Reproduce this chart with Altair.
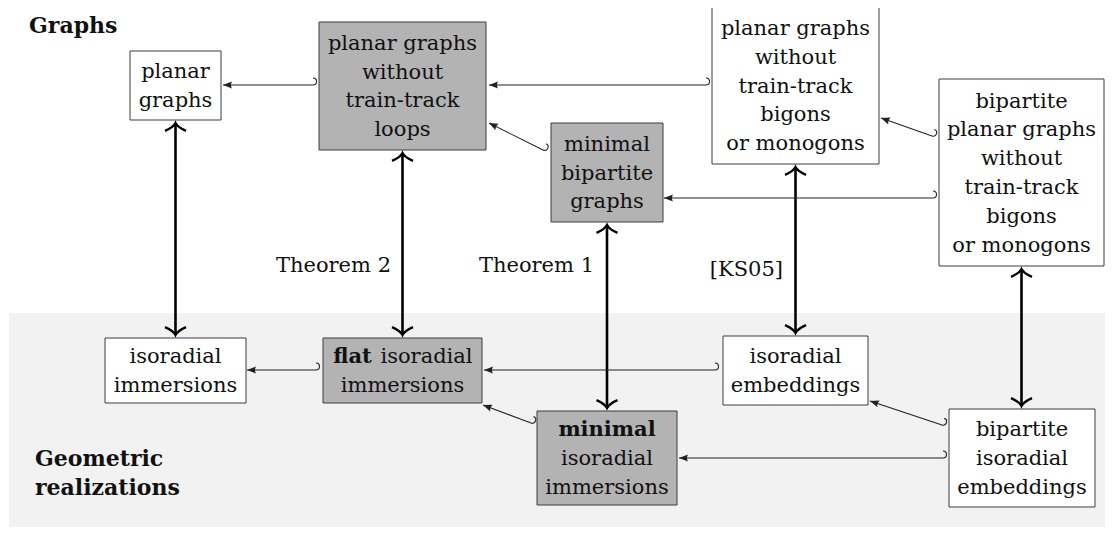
import altair as alt
import pandas as pd
import numpy as np

# ---------------- diagram data (figure pixel units) ----------------
# Boxes (nodes): text lines ("*...*" marks bold), extents, gray fill flag
node_lines = [
    ["planar", "graphs"],
    ["planar graphs", "without", "train-track", "loops"],
    ["planar graphs", "without", "train-track", "bigons", "or monogons"],
    ["bipartite", "planar graphs", "without", "train-track", "bigons", "or monogons"],
    ["minimal", "bipartite", "graphs"],
    ["isoradial", "immersions"],
    ["*flat* isoradial", "immersions"],
    ["isoradial", "embeddings"],
    ["*minimal*", "isoradial", "immersions"],
    ["bipartite", "isoradial", "embeddings"],
]
node_x0 = [130, 319, 712, 939, 551, 105, 323, 723, 537, 949]
node_x1 = [221, 486, 879, 1104, 663, 246, 482, 868, 677, 1095]
node_y0 = [51, 22, 7, 79, 123, 338, 338, 336, 411, 409]
node_y1 = [120, 150, 164, 266, 222, 403, 403, 405, 505, 507]
node_gray = [False, True, False, False, True, False, True, False, True, False]
split_offsets = [-50, 24]  # x-offsets of the two pieces of "flat isoradial"

# Thick double arrows: (upper node, lower node)
double_pairs = [(0, 5), (1, 6), (4, 8), (2, 7), (3, 9)]

# Thin hooked arrows: tail (hook) point -> tip point
thin_tail_x = [313, 706, 933, 316, 715, 943, 543, 932, 531, 942]
thin_tail_y = [85, 85, 198, 370, 370, 458, 150, 136, 423, 425]
thin_tip_x = [223, 489, 664, 247, 484, 679, 489, 881, 483, 870]
thin_tip_y = [85, 85, 198, 370, 370, 458, 123, 118, 405, 401]

# Free labels
head_text = ["Graphs", "Geometric", "realizations"]
head_x = [29, 35, 35]
head_y = [33, 466, 495]
thm_text = ["Theorem 2", "Theorem 1", "[KS05]"]
thm_x = [391, 594, 783]
thm_y = [272, 272, 276]

# Gray region of geometric realizations
region_x = [9, 1113]
region_y = [313, 533]

# ---------------- styles ----------------
FONT = "DejaVu Serif"
FS = 21
FS_HEAD = 22
LINE = 28.8
BASE_OFF = 7
GAP = 3
CHEVRON = "M -1 0.75 C -0.55 0.55 -0.12 0.25 0 0 C 0.12 0.25 0.55 0.55 1 0.75"
TRI = "M 0 0 L -2 -0.8 Q -1.55 0 -2 0.8 Z"
HOOK = "M 0 0 C 1.33 0 1.33 -2 0 -2"

# ---------------- tables ----------------
boxes = pd.DataFrame({
    "x0": node_x0, "x1": node_x1, "y0": node_y0, "y1": node_y1,
    "fill": ["#b3b3b3" if g else "#ffffff" for g in node_gray],
})

reg_rows, bold_rows = [], []
for i, lines in enumerate(node_lines):
    cx = (node_x0[i] + node_x1[i]) / 2
    cy = (node_y0[i] + node_y1[i]) / 2
    n = len(lines)
    for k, ln in enumerate(lines):
        y = cy + BASE_OFF + (k - (n - 1) / 2) * LINE
        if ln.startswith("*") and ln.endswith("*"):
            bold_rows.append({"x": cx, "y": y, "t": ln.strip("*")})
        elif ln.startswith("*"):
            b, r = ln[1:].split("* ")
            bold_rows.append({"x": cx + split_offsets[0], "y": y, "t": b})
            reg_rows.append({"x": cx + split_offsets[1], "y": y, "t": r})
        else:
            reg_rows.append({"x": cx, "y": y, "t": ln})
reg_df = pd.DataFrame(reg_rows)
bold_df = pd.DataFrame(bold_rows)

dbl = []
heads = []
for a, b in double_pairs:
    x = (node_x0[a] + node_x1[a]) / 2
    ytop = node_y1[a] + GAP
    ybot = node_y0[b] - GAP
    dbl.append({"x": x, "y0": ytop, "y1": ybot})
    heads.append({"x": x, "y": ytop, "ang": 0})
    heads.append({"x": x, "y": ybot, "ang": 180})
dbl_df = pd.DataFrame(dbl)
dhead_df = pd.DataFrame(heads)

thin = pd.DataFrame({"tx": thin_tail_x, "ty": thin_tail_y,
                     "hx": thin_tip_x, "hy": thin_tip_y})
dx = thin["hx"] - thin["tx"]
dy = thin["hy"] - thin["ty"]
thin["head_ang"] = np.degrees(np.arctan2(dy, dx)) % 360
thin["hook_ang"] = np.degrees(np.arctan2(-dy, -dx)) % 360

head_df = pd.DataFrame({"x": head_x, "y": head_y, "t": head_text})
thm_df = pd.DataFrame({"x": thm_x, "y": thm_y, "t": thm_text})
region_df = pd.DataFrame({"x0": [region_x[0]], "x1": [region_x[1]],
                          "y0": [region_y[0]], "y1": [region_y[1]]})

# ---------------- scales ----------------
xs = alt.Scale(domain=[8, 1105], nice=False, zero=False)
ys = alt.Scale(domain=[8, 527], nice=False, zero=False, reverse=True)


def X(f):
    return alt.X(f, type="quantitative", scale=xs, axis=None)


def Y(f):
    return alt.Y(f, type="quantitative", scale=ys, axis=None)


region = alt.Chart(region_df).mark_rect(color="#f2f2f2").encode(
    x=X("x0"), x2="x1", y=Y("y0"), y2="y1")

box_layer = alt.Chart(boxes).mark_rect(stroke="#3c3c3c", strokeWidth=1).encode(
    x=X("x0"), x2="x1", y=Y("y0"), y2="y1", fill=alt.Fill("fill:N", scale=None))

dbl_rules = alt.Chart(dbl_df).mark_rule(color="black", strokeWidth=2.6).encode(
    x=X("x"), y=Y("y0"), y2="y1")

dbl_heads = alt.Chart(dhead_df).mark_point(
    shape=CHEVRON, size=441, filled=False, color="black", strokeWidth=2.3,
    opacity=1, strokeJoin="miter").encode(
    x=X("x"), y=Y("y"), angle=alt.Angle("ang:Q", scale=None))

thin_rules = alt.Chart(thin).mark_rule(color="#222222", strokeWidth=1.1).encode(
    x=X("tx"), y=Y("ty"), x2="hx", y2="hy")

thin_heads = alt.Chart(thin).mark_point(
    shape=TRI, size=81, filled=True, color="#222222", opacity=1, strokeWidth=0).encode(
    x=X("hx"), y=Y("hy"), angle=alt.Angle("head_ang:Q", scale=None))

thin_hooks = alt.Chart(thin).mark_point(
    shape=HOOK, size=49, filled=False, color="#222222", opacity=1, strokeWidth=1.1).encode(
    x=X("tx"), y=Y("ty"), angle=alt.Angle("hook_ang:Q", scale=None))

txt_reg = alt.Chart(reg_df).mark_text(
    font=FONT, fontSize=FS, align="center", baseline="alphabetic", color="#111111").encode(
    x=X("x"), y=Y("y"), text="t:N")

txt_bold = alt.Chart(bold_df).mark_text(
    font=FONT, fontSize=FS, fontWeight="bold", align="center", baseline="alphabetic",
    color="#111111").encode(x=X("x"), y=Y("y"), text="t:N")

txt_head = alt.Chart(head_df).mark_text(
    font=FONT, fontSize=FS_HEAD, fontWeight="bold", align="left", baseline="alphabetic",
    color="#111111").encode(x=X("x"), y=Y("y"), text="t:N")

txt_thm = alt.Chart(thm_df).mark_text(
    font=FONT, fontSize=FS, align="right", baseline="alphabetic", color="#111111").encode(
    x=X("x"), y=Y("y"), text="t:N")

chart = alt.layer(
    region, dbl_rules, thin_rules, box_layer, dbl_heads, thin_heads, thin_hooks,
    txt_reg, txt_bold, txt_head, txt_thm,
).properties(
    width=1097, height=519, padding=0,
    autosize=alt.AutoSizeParams(type="none"),
    background="white",
).configure_view(stroke=None)

chart.save("out.html", embed_options={"renderer": "svg", "actions": False})
